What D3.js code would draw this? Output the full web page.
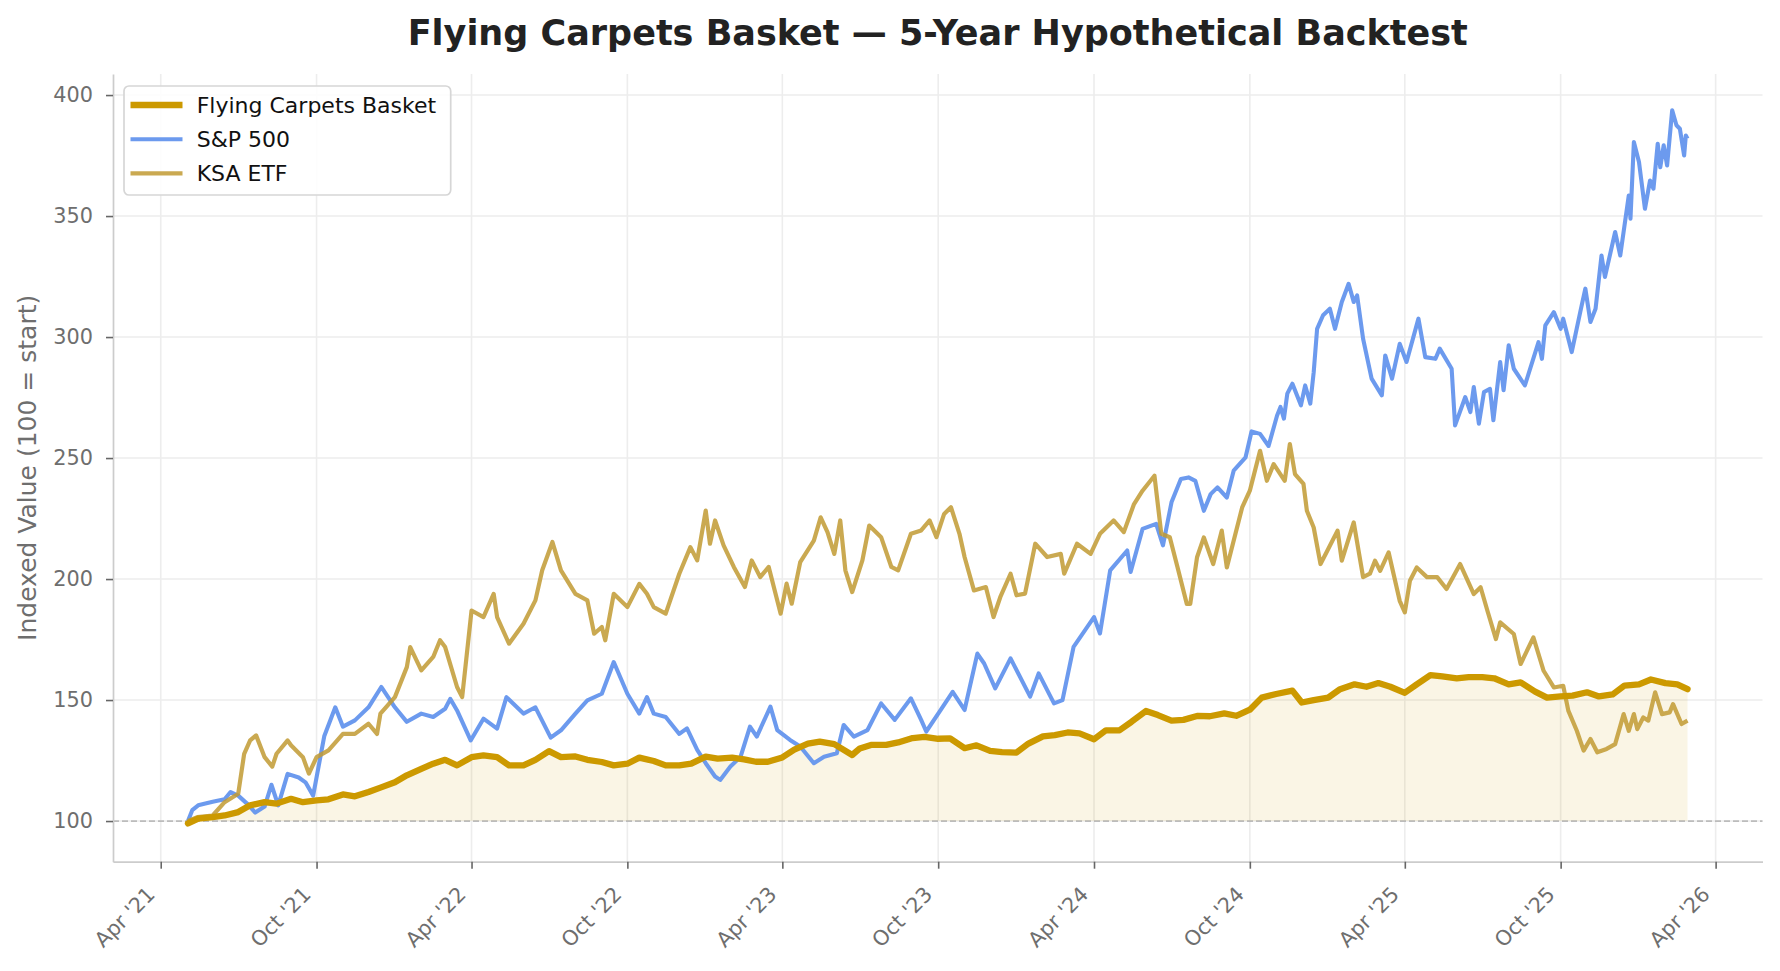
<!DOCTYPE html>
<html>
<head>
<meta charset="utf-8">
<script src="https://cdn.jsdelivr.net/npm/d3@7"></script>
<style>
  body { margin: 0; background: #fff; }
  svg text { font-family: "DejaVu Sans", sans-serif; }
</style>
</head>
<body>
<script>
// Titel und Achsen
var title = "Flying Carpets Basket \u2014 5-Year Hypothetical Backtest";
var yLabel = "Indexed Value (100 = start)";
var seriesNames = ["Flying Carpets Basket", "S&P 500", "KSA ETF"];

// Tick Werte
var xTickDates = ["2021-04-01", "2021-10-01", "2022-04-01", "2022-10-01", "2023-04-01", "2023-10-01",
                  "2024-04-01", "2024-10-01", "2025-04-01", "2025-10-01", "2026-04-01"];
var yTicks = [100, 150, 200, 250, 300, 350, 400];
var yDomain = [83.2, 408.7];
var baseLine = 100;

// Basket
var basketDates = ["2021-05-03","2021-05-15","2021-06-01","2021-06-15","2021-07-01","2021-07-15","2021-08-01","2021-08-15",
  "2021-09-01","2021-09-15","2021-10-01","2021-10-15","2021-11-01","2021-11-15","2021-12-01","2021-12-15",
  "2022-01-01","2022-01-15","2022-02-01","2022-02-15","2022-03-01","2022-03-15","2022-04-01","2022-04-15",
  "2022-05-01","2022-05-15","2022-06-01","2022-06-15","2022-07-01","2022-07-15","2022-08-01","2022-08-15",
  "2022-09-01","2022-09-15","2022-10-01","2022-10-15","2022-11-01","2022-11-15","2022-12-01","2022-12-15",
  "2023-01-01","2023-01-15","2023-02-01","2023-02-15","2023-03-01","2023-03-15","2023-04-01","2023-04-15",
  "2023-05-01","2023-05-15","2023-06-01","2023-06-22","2023-07-01","2023-07-15","2023-08-01","2023-08-15",
  "2023-09-01","2023-09-15","2023-10-01","2023-10-15","2023-11-01","2023-11-15","2023-12-01","2023-12-15",
  "2024-01-01","2024-01-15","2024-02-01","2024-02-15","2024-03-01","2024-03-15","2024-04-01","2024-04-15",
  "2024-05-01","2024-05-15","2024-06-01","2024-06-15","2024-07-01","2024-07-15","2024-08-01","2024-08-15",
  "2024-09-01","2024-09-15","2024-10-01","2024-10-15","2024-11-01","2024-11-20","2024-12-01","2024-12-15",
  "2025-01-01","2025-01-15","2025-02-01","2025-02-15","2025-03-01","2025-03-15","2025-04-01","2025-04-15",
  "2025-05-01","2025-05-15","2025-06-01","2025-06-15","2025-07-01","2025-07-15","2025-08-01","2025-08-15",
  "2025-09-01","2025-09-15","2025-10-01","2025-10-15","2025-11-01","2025-11-15","2025-12-01","2025-12-15",
  "2026-01-01","2026-01-15","2026-02-01","2026-02-15","2026-02-27"];
var basketValues = [99.0,101.0,101.6,102.3,103.7,106.5,107.8,107.2,
  109.2,107.8,108.5,109.0,111.0,110.2,112.0,113.8,
  116.0,118.9,121.6,123.7,125.3,123.0,126.4,127.1,
  126.4,123.0,123.0,125.3,128.9,126.4,126.7,125.3,
  124.4,123.0,123.7,126.2,124.8,123.0,123.0,123.7,
  126.6,125.8,126.2,125.5,124.5,124.5,126.3,129.5,
  132.0,132.8,131.8,127.3,130.0,131.5,131.5,132.5,
  134.3,134.8,134.0,134.2,130.1,131.3,129.0,128.5,
  128.3,132.0,135.0,135.5,136.6,136.2,133.8,137.5,
  137.5,141.0,145.5,143.8,141.5,141.8,143.5,143.3,
  144.5,143.5,146.0,151.0,152.5,153.9,149.0,150.0,
  151.0,154.5,156.5,155.5,157.0,155.5,153.0,156.5,
  160.3,159.8,159.0,159.5,159.5,159.0,156.5,157.3,
  153.5,151.0,151.5,151.8,153.2,151.5,152.3,156.0,
  156.5,158.5,157.0,156.5,154.5];

// S&P 500
var spDates = ["2021-05-03","2021-05-08","2021-05-15","2021-06-01","2021-06-15","2021-06-22","2021-07-01","2021-07-12",
  "2021-07-21","2021-08-01","2021-08-09","2021-08-17","2021-08-28","2021-09-10","2021-09-18","2021-09-27",
  "2021-10-10","2021-10-23","2021-11-01","2021-11-15","2021-12-01","2021-12-16","2022-01-01","2022-01-15",
  "2022-02-01","2022-02-15","2022-03-01","2022-03-07","2022-03-15","2022-03-31","2022-04-15","2022-05-01",
  "2022-05-12","2022-06-01","2022-06-15","2022-07-03","2022-07-15","2022-08-01","2022-08-15","2022-09-01",
  "2022-09-15","2022-10-01","2022-10-15","2022-10-24","2022-11-01","2022-11-15","2022-12-01","2022-12-10",
  "2022-12-22","2023-01-01","2023-01-12","2023-01-18","2023-01-30","2023-02-11","2023-02-22","2023-03-02",
  "2023-03-18","2023-03-26","2023-04-10","2023-04-22","2023-05-08","2023-05-20","2023-06-04","2023-06-12",
  "2023-06-24","2023-07-10","2023-07-26","2023-08-11","2023-08-30","2023-09-11","2023-09-17","2023-10-04",
  "2023-10-18","2023-11-01","2023-11-16","2023-11-24","2023-12-07","2023-12-25","2024-01-17","2024-01-27",
  "2024-02-14","2024-02-24","2024-03-08","2024-04-01","2024-04-08","2024-04-20","2024-05-10","2024-05-14",
  "2024-05-28","2024-06-13","2024-06-21","2024-07-01","2024-07-12","2024-07-21","2024-07-29","2024-08-08",
  "2024-08-16","2024-08-24","2024-09-04","2024-09-12","2024-09-26","2024-10-03","2024-10-13","2024-10-23",
  "2024-11-02","2024-11-06","2024-11-10","2024-11-14","2024-11-20","2024-11-30","2024-12-05","2024-12-11",
  "2024-12-15","2024-12-19","2024-12-26","2025-01-03","2025-01-09","2025-01-17","2025-01-25","2025-01-31",
  "2025-02-04","2025-02-11","2025-02-21","2025-03-05","2025-03-09","2025-03-17","2025-03-26","2025-04-03",
  "2025-04-17","2025-04-25","2025-05-07","2025-05-12","2025-05-26","2025-05-30","2025-06-11","2025-06-17",
  "2025-06-21","2025-06-27","2025-07-03","2025-07-10","2025-07-14","2025-07-22","2025-07-26","2025-08-01",
  "2025-08-07","2025-08-20","2025-09-05","2025-09-09","2025-09-13","2025-09-23","2025-10-01","2025-10-04",
  "2025-10-14","2025-10-24","2025-10-30","2025-11-05","2025-11-11","2025-11-18","2025-11-22","2025-12-04",
  "2025-12-10","2025-12-20","2025-12-22","2025-12-26","2026-01-01","2026-01-08","2026-01-14","2026-01-18",
  "2026-01-23","2026-01-26","2026-01-30","2026-02-03","2026-02-09","2026-02-14","2026-02-18","2026-02-23",
  "2026-02-25","2026-02-27"];
var spValues = [100.0,104.5,106.5,108.0,109.0,112.0,110.5,107.0,
  103.5,106.0,115.0,106.5,119.5,118.0,116.0,110.5,
  135.0,147.0,139.0,141.6,147.0,155.4,147.0,141.0,
  144.4,143.0,146.4,150.5,145.7,133.3,142.3,138.2,
  151.2,144.4,147.0,134.5,137.5,144.4,149.9,152.6,
  165.7,152.6,144.4,151.2,144.4,143.0,136.0,138.3,
  129.4,123.9,118.4,117.0,122.5,126.6,139.0,134.9,
  147.3,137.6,133.5,130.8,123.9,126.6,128.0,139.7,
  134.9,137.6,148.6,141.8,150.7,141.8,137.0,145.9,
  153.4,145.9,169.2,165.1,154.8,167.2,151.4,161.0,
  148.6,150.0,172.0,184.3,177.5,203.6,211.8,202.9,
  220.7,222.8,213.9,231.7,241.3,242.0,240.6,228.2,
  235.1,237.9,233.7,244.8,250.3,261.0,260.0,255.0,
  267.6,271.1,266.3,276.6,280.7,271.8,280.0,272.5,
  285.5,303.4,309.0,311.7,303.4,314.5,322.0,314.5,
  317.2,299.3,282.8,275.9,292.4,282.8,297.2,289.7,
  307.6,291.7,291.0,295.2,286.9,263.5,275.2,269.0,
  279.3,264.2,277.3,278.6,265.6,289.7,278.0,296.6,
  286.9,280.0,297.9,291.0,304.8,310.3,303.4,307.6,
  293.8,310.3,320.0,306.2,311.7,333.7,324.8,343.4,
  333.7,358.5,348.9,380.6,372.3,353.0,364.7,361.3,
  379.9,370.2,379.2,370.9,393.7,387.5,386.1,375.0,
  383.3,382.0];

// KSA ETF
var ksaDates = ["2021-05-03","2021-05-14","2021-06-01","2021-06-15","2021-07-01","2021-07-08","2021-07-15","2021-07-22",
  "2021-08-01","2021-08-10","2021-08-15","2021-08-28","2021-09-01","2021-09-15","2021-09-22","2021-10-01",
  "2021-10-15","2021-11-01","2021-11-15","2021-12-01","2021-12-11","2021-12-15","2022-01-01","2022-01-15",
  "2022-01-19","2022-02-01","2022-02-15","2022-02-23","2022-03-01","2022-03-15","2022-03-21","2022-04-01",
  "2022-04-15","2022-04-27","2022-05-01","2022-05-15","2022-06-01","2022-06-15","2022-06-23","2022-07-05",
  "2022-07-15","2022-08-01","2022-08-15","2022-08-23","2022-09-01","2022-09-05","2022-09-15","2022-10-01",
  "2022-10-15","2022-10-24","2022-11-01","2022-11-15","2022-12-01","2022-12-14","2022-12-22","2023-01-01",
  "2023-01-06","2023-01-12","2023-01-22","2023-02-03","2023-02-16","2023-02-24","2023-03-06","2023-03-16",
  "2023-03-30","2023-04-06","2023-04-12","2023-04-22","2023-05-08","2023-05-16","2023-05-24","2023-06-01",
  "2023-06-08","2023-06-14","2023-06-22","2023-07-04","2023-07-12","2023-07-26","2023-08-07","2023-08-15",
  "2023-08-30","2023-09-11","2023-09-21","2023-09-29","2023-10-08","2023-10-16","2023-10-26","2023-11-01",
  "2023-11-12","2023-11-26","2023-12-05","2023-12-13","2023-12-25","2024-01-01","2024-01-11","2024-01-23",
  "2024-02-06","2024-02-22","2024-02-26","2024-03-12","2024-03-28","2024-04-08","2024-04-24","2024-05-06",
  "2024-05-18","2024-05-28","2024-06-11","2024-06-19","2024-06-29","2024-07-08","2024-07-19","2024-07-23",
  "2024-07-31","2024-08-08","2024-08-19","2024-08-29","2024-09-04","2024-09-12","2024-09-22","2024-10-01",
  "2024-10-13","2024-10-21","2024-10-29","2024-11-11","2024-11-17","2024-11-23","2024-12-03","2024-12-07",
  "2024-12-15","2024-12-23","2024-12-31","2025-01-12","2025-01-17","2025-01-31","2025-02-11","2025-02-19",
  "2025-02-25","2025-03-03","2025-03-13","2025-03-26","2025-04-01","2025-04-07","2025-04-15","2025-04-27",
  "2025-05-09","2025-05-20","2025-06-05","2025-06-21","2025-06-29","2025-07-07","2025-07-17","2025-07-22",
  "2025-08-07","2025-08-15","2025-08-30","2025-09-11","2025-09-23","2025-10-04","2025-10-10","2025-10-20",
  "2025-10-28","2025-11-05","2025-11-13","2025-11-24","2025-12-04","2025-12-14","2025-12-20","2025-12-26",
  "2025-12-30","2026-01-06","2026-01-12","2026-01-20","2026-01-28","2026-02-06","2026-02-10","2026-02-20",
  "2026-02-27"];
var ksaValues = [100.0,101.6,102.3,107.8,111.3,127.8,133.3,135.4,
  126.4,122.5,127.8,133.3,131.3,126.4,119.6,126.4,
  129.2,136.0,136.0,140.2,136.0,144.4,151.2,163.6,
  171.9,162.3,167.8,174.7,171.9,155.4,151.2,187.0,
  184.3,193.9,184.3,173.3,181.5,191.2,203.6,215.3,
  203.6,193.9,191.2,177.4,180.2,174.7,193.9,188.4,
  198.0,193.9,188.4,185.7,202.2,213.2,207.7,228.3,
  214.6,224.2,213.9,205.0,196.7,207.7,200.8,205.0,
  185.7,198.1,189.8,207.0,215.9,225.5,219.4,210.4,
  224.2,203.6,194.6,207.7,222.1,217.3,205.0,203.6,
  218.7,220.1,224.2,217.3,226.9,229.7,218.7,209.1,
  195.3,196.7,184.3,192.6,202.2,193.3,194.0,214.6,
  209.1,210.4,202.2,214.6,210.4,218.7,224.2,219.4,
  231.0,236.5,242.7,218.7,217.3,205.0,189.7,189.7,
  209.0,217.2,206.2,220.0,204.8,215.8,229.6,236.5,
  253.0,240.6,247.5,240.6,255.8,243.4,239.3,228.2,
  221.3,206.2,211.7,220.0,207.6,223.4,200.8,202.2,
  207.6,203.4,211.0,191.0,186.2,199.3,204.8,200.8,
  200.8,195.9,206.2,193.8,196.6,186.9,175.2,182.1,
  177.3,164.9,175.9,162.1,155.2,155.9,145.6,137.3,
  129.1,133.9,128.4,129.8,131.8,144.2,137.3,144.2,
  138.0,142.8,141.5,153.2,144.2,144.9,148.3,140.1,
  141.5];

// Farben
var colors = {basket: "#cc9900", sp: "#6495ed", ksa: "#c19a33"};

// Body Werte definieren
var W = 1780, H = 971;
var margin = {top: 74, right: 17.5, bottom: 109.3, left: 113},
    width = W - margin.left - margin.right,
    height = H - margin.top - margin.bottom;

var parse = d3.timeParse("%Y-%m-%d");
function toPoints(dates, values) {
  return dates.map(function(d, i) { return {date: parse(d), value: values[i]}; });
}
var basket = toPoints(basketDates, basketValues);
var sp = toPoints(spDates, spValues);
var ksa = toPoints(ksaDates, ksaValues);

// X Achse: Datumsbereich plus 5% Rand
var ext = d3.extent(basket.concat(sp, ksa), function(d) { return d.date; });
var pad = (ext[1] - ext[0]) * 0.05;
var xScale = d3.scaleTime()
    .domain([new Date(+ext[0] - pad), new Date(+ext[1] + pad)])
    .range([0, width]);

// Y Achse
var yScale = d3.scaleLinear()
    .domain(yDomain)
    .range([height, 0]);

// SVG erzeugen
var svgRoot = d3.select("body").append("svg")
    .attr("width", W)
    .attr("height", H);
svgRoot.append("rect").attr("width", W).attr("height", H).attr("fill", "#fff");

var svg = svgRoot.append("g")
    .attr("transform", "translate(" + margin.left + "," + margin.top + ")");

var xTicks = xTickDates.map(parse);

// Gitter
svg.append("g").selectAll("line").data(xTicks).enter().append("line")
    .attr("x1", function(d) { return xScale(d); })
    .attr("x2", function(d) { return xScale(d); })
    .attr("y1", 0).attr("y2", height)
    .attr("stroke", "#ededed").attr("stroke-width", 1.6);
svg.append("g").selectAll("line").data(yTicks).enter().append("line")
    .attr("x1", 0).attr("x2", width)
    .attr("y1", function(d) { return yScale(d); })
    .attr("y2", function(d) { return yScale(d); })
    .attr("stroke", "#ededed").attr("stroke-width", 1.6);

// Fläche unter dem Basket
var area = d3.area()
    .x(function(d) { return xScale(d.date); })
    .y0(yScale(baseLine))
    .y1(function(d) { return yScale(d.value); });
svg.append("path")
    .datum(basket)
    .attr("d", area)
    .attr("fill", colors.basket)
    .attr("fill-opacity", 0.1);

// Linie bei 100
svg.append("line")
    .attr("x1", 0).attr("x2", width)
    .attr("y1", yScale(baseLine)).attr("y2", yScale(baseLine))
    .attr("stroke", "#999").attr("stroke-opacity", 0.6)
    .attr("stroke-width", 1.7).attr("stroke-dasharray", "6,3");

// Linien
var line = d3.line()
    .x(function(d) { return xScale(d.date); })
    .y(function(d) { return yScale(d.value); });

svg.append("path").datum(sp)
    .attr("d", line).attr("fill", "none")
    .attr("stroke", colors.sp).attr("stroke-opacity", 0.95)
    .attr("stroke-width", 4.1).attr("stroke-linejoin", "round");
svg.append("path").datum(ksa)
    .attr("d", line).attr("fill", "none")
    .attr("stroke", colors.ksa).attr("stroke-opacity", 0.85)
    .attr("stroke-width", 4.2).attr("stroke-linejoin", "round");
svg.append("path").datum(basket)
    .attr("d", line).attr("fill", "none")
    .attr("stroke", colors.basket)
    .attr("stroke-width", 6.3).attr("stroke-linejoin", "round").attr("stroke-linecap", "round");

// X Achse erzeugen
var xAxis = svg.append("g")
    .attr("transform", "translate(0," + height + ")")
    .call(d3.axisBottom(xScale).tickValues(xTicks).tickFormat(d3.timeFormat("%b '%y")).tickSize(7).tickSizeOuter(0));
xAxis.selectAll("text")
    .attr("x", 0).attr("y", 0).attr("dy", 0)
    .attr("text-anchor", "end")
    .attr("transform", "translate(-5,34) rotate(-45)");

// Y Achse erzeugen
var yAxis = svg.append("g")
    .call(d3.axisLeft(yScale).tickValues(yTicks).tickSize(7).tickSizeOuter(0).tickPadding(13));

[xAxis, yAxis].forEach(function(ax) {
  ax.select(".domain").attr("stroke", "#cccccc").attr("stroke-width", 1.7);
  ax.selectAll(".tick line").attr("stroke", "#666").attr("stroke-width", 1.6);
  ax.selectAll(".tick text").attr("fill", "#6e6e6e").style("font-size", "20.8px")
    .style("font-family", "'DejaVu Sans', sans-serif");
});

// Titel
svgRoot.append("text")
    .attr("x", margin.left + width / 2).attr("y", 45)
    .attr("text-anchor", "middle")
    .attr("fill", "#222")
    .style("font-size", "35px").style("font-weight", "bold")
    .text(title);

// Y Beschriftung
svgRoot.append("text")
    .attr("transform", "translate(35.5," + (margin.top + height / 2) + ") rotate(-90)")
    .attr("text-anchor", "middle")
    .attr("fill", "#6e6e6e")
    .style("font-size", "25px")
    .text(yLabel);

// Legende
var legend = svg.append("g").attr("transform", "translate(11,12)");
legend.append("rect")
    .attr("width", 326.7).attr("height", 109)
    .attr("rx", 5).attr("ry", 5)
    .attr("fill", "#fff").attr("fill-opacity", 0.85)
    .attr("stroke", "#d6d6d6").attr("stroke-width", 1.7);
var legendItems = [
  {name: seriesNames[0], color: colors.basket, w: 6.3, op: 1},
  {name: seriesNames[1], color: colors.sp, w: 4.1, op: 0.95},
  {name: seriesNames[2], color: colors.ksa, w: 4.2, op: 0.85}
];
var item = legend.selectAll(".item").data(legendItems).enter().append("g")
    .attr("transform", function(d, i) { return "translate(0," + (19 + i * 34.2) + ")"; });
item.append("line")
    .attr("x1", 6.5).attr("x2", 58.5).attr("y1", 0).attr("y2", 0)
    .attr("stroke", function(d) { return d.color; })
    .attr("stroke-opacity", function(d) { return d.op; })
    .attr("stroke-width", function(d) { return d.w; });
item.append("text")
    .attr("x", 72.7).attr("y", 8)
    .attr("fill", "#111")
    .style("font-size", "22px")
    .text(function(d) { return d.name; });
</script>
</body>
</html>
